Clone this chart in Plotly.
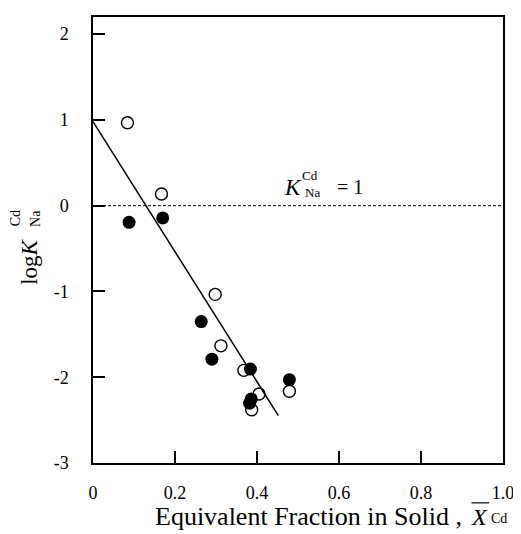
import plotly.graph_objects as go

# Data
open_x = [0.084, 0.167, 0.298, 0.312, 0.368, 0.405, 0.387, 0.479]
open_y = [0.967, 0.136, -1.034, -1.634, -1.920, -2.195, -2.380, -2.164]
filled_x = [0.088, 0.170, 0.264, 0.290, 0.384, 0.386, 0.382, 0.479]
filled_y = [-0.194, -0.143, -1.351, -1.789, -1.905, -2.253, -2.303, -2.029]
fit_x = [0.0, 0.452]
fit_y = [0.98, -2.447]

x_tickvals = [0, 0.2, 0.4, 0.6, 0.8, 1.0]
x_ticktext = ["0", "0.2", "0.4", "0.6", "0.8", "1.0"]
y_tickvals = [-3, -2, -1, 0, 1, 2]
y_ticktext = ["-3", "-2", "-1", "0", "1", "2"]

FONT = "Liberation Serif"
OFF = 8  # page body margin
W, H = 513, 526
L, R, T, B = 85, 12, 7, 71
PW, PH = W - L - R, H - T - B


def px(xp):
    return (xp - OFF - L) / PW


def py(yp):
    return (H - B - (yp - OFF)) / PH


fig = go.Figure()
fig.add_trace(go.Scatter(x=fit_x, y=fit_y, mode="lines",
                         line=dict(color="black", width=1.5), showlegend=False))
fig.add_trace(go.Scatter(x=open_x, y=open_y, mode="markers",
                         marker=dict(symbol="circle-open", size=12, color="black",
                                     line=dict(width=1.4)), showlegend=False))
fig.add_trace(go.Scatter(x=filled_x, y=filled_y, mode="markers",
                         marker=dict(symbol="circle", size=13, color="black"),
                         showlegend=False))

fig.add_shape(type="line", xref="x", yref="y", x0=0, x1=1, y0=0, y1=0,
              line=dict(color="black", width=1, dash="3px,2px"))

axis_common = dict(showline=True, linecolor="black", linewidth=1.5, mirror=True,
                   ticks="inside", ticklen=12, tickwidth=1.5, tickcolor="black",
                   showgrid=False, zeroline=False,
                   tickfont=dict(family=FONT, size=18, color="black"))

fig.update_xaxes(range=[0, 1], tickvals=x_tickvals, ticktext=x_ticktext,
                 ticklabelstandoff=13, **axis_common)
fig.update_yaxes(range=[-3, 2.2], tickvals=y_tickvals, ticktext=y_ticktext,
                 ticklabelstandoff=19, **axis_common)

ann = []
# K^Cd_Na = 1 label
ann.append(dict(x=px(296), y=py(186), text="<i>K</i>", font=dict(size=23)))
ann.append(dict(x=px(313), y=py(174), text="Cd", font=dict(size=13)))
ann.append(dict(x=px(316), y=py(191), text="Na", font=dict(size=13)))
ann.append(dict(x=px(354), y=py(186), text="= 1", font=dict(size=20)))
# y-axis title
ann.append(dict(x=px(29), y=py(261), text="log<i>K</i>", font=dict(size=23), textangle=-90))
ann.append(dict(x=px(14), y=py(217), text="Cd", font=dict(size=14), textangle=-90))
ann.append(dict(x=px(34), y=py(217), text="Na", font=dict(size=14), textangle=-90))
# x-axis title
ann.append(dict(x=px(312), y=py(517), text="Equivalent Fraction in Solid ,", font=dict(size=26)))
ann.append(dict(x=px(485), y=py(517), text="<i>X</i>", font=dict(size=24)))
ann.append(dict(x=px(505), y=py(519), text="Cd", font=dict(size=14)))

for a in ann:
    a.update(xref="paper", yref="paper", showarrow=False, xanchor="center",
             yanchor="middle")
    a["font"].update(family=FONT, color="black")
fig.update_layout(annotations=ann)

# overline over X
fig.add_shape(type="line", xref="paper", yref="paper", x0=px(477), x1=px(495),
              y0=py(503), y1=py(503), line=dict(color="black", width=1.2))

fig.update_layout(width=W, height=H, margin=dict(l=L, r=R, t=T, b=B),
                  paper_bgcolor="white", plot_bgcolor="white",
                  font=dict(family=FONT, color="black"))

fig.write_html("out.html")
